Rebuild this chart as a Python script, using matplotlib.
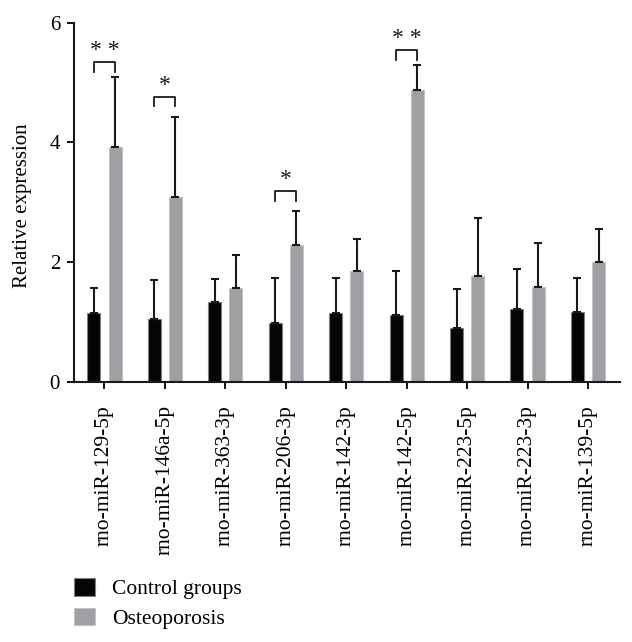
import matplotlib.pyplot as plt
import numpy as np

plt.rcParams['font.family'] = ['Liberation Serif', 'DejaVu Serif']

mirnas = ['rno-miR-129-5p', 'rno-miR-146a-5p', 'rno-miR-363-3p', 'rno-miR-206-3p',
          'rno-miR-142-3p', 'rno-miR-142-5p', 'rno-miR-223-5p', 'rno-miR-223-3p',
          'rno-miR-139-5p']
control = [1.15, 1.04, 1.34, 0.98, 1.14, 1.11, 0.90, 1.22, 1.17]
control_err = [0.41, 0.66, 0.37, 0.76, 0.60, 0.74, 0.65, 0.66, 0.57]
osteo = [3.93, 3.09, 1.56, 2.28, 1.85, 4.87, 1.77, 1.59, 2.00]
osteo_err = [1.17, 1.34, 0.56, 0.57, 0.54, 0.43, 0.97, 0.73, 0.55]
# significance marks: group index -> stars
sig = {0: '* *', 1: '*', 3: '*', 5: '* *'}

fig = plt.figure(figsize=(6.32, 6.42), dpi=100)
ax = fig.add_axes([0.117, 0.4055, 0.864, 0.5591])

x = np.arange(len(mirnas))
w = 0.215
off = 0.175

ax.bar(x - off, control, w, color='#050505', edgecolor='#808080', linewidth=0.8,
       label='Control groups', zorder=2)
ax.bar(x + off, osteo, w, color='#a0a0a4', edgecolor='#c4c4c6', linewidth=0.8,
       label='Osteoporosis', zorder=2)
ax.errorbar(x - off, control, yerr=[np.zeros(len(x)), control_err], fmt='none',
            ecolor='#1a1a1a', elinewidth=1.5, capsize=3, capthick=1.5, zorder=3)
ax.errorbar(x + off, osteo, yerr=[np.zeros(len(x)), osteo_err], fmt='none',
            ecolor='#1a1a1a', elinewidth=1.5, capsize=3, capthick=1.5, zorder=3)

for i, s in sig.items():
    top = max(control[i] + control_err[i], osteo[i] + osteo_err[i])
    yb = top + (0.24 if s == '* *' else 0.33)
    ax.plot([i - off, i - off, i + off, i + off], [yb - 0.16, yb, yb, yb - 0.16],
            color='#1a1a1a', lw=1.3, clip_on=False)
    ax.text(i, yb + 0.02, s, ha='center', va='bottom', fontsize=17, color='#1a1a1a')

ax.set_xlim(-0.505, 8.53)
ax.set_ylim(0, 6)
ax.set_yticks([0, 2, 4, 6])
ax.set_xticks(x)
ax.set_xticklabels(mirnas, rotation=90, fontsize=15.5)
ax.tick_params(axis='y', labelsize=15, length=5, width=1.3, direction='out', pad=5)
ax.tick_params(axis='x', length=5, width=1.3, direction='out', pad=12)
ax.set_ylabel('Relative expression', fontsize=15)
ax.yaxis.set_label_coords(-0.077, 0.49)
for s in ['top', 'right']:
    ax.spines[s].set_visible(False)
for s in ['left', 'bottom']:
    ax.spines[s].set_linewidth(1.5)
    ax.spines[s].set_color('#1a1a1a')

fig.legend(loc='lower left', bbox_to_anchor=(0.087, -0.01), frameon=False, fontsize=15.5,
           handlelength=0.95, handleheight=0.85, handletextpad=0.8, labelspacing=0.4)

fig.savefig('out.png', dpi=100)
